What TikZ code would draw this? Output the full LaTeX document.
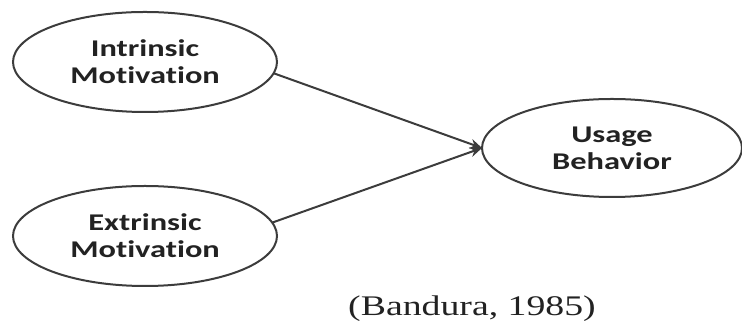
\documentclass[tikz,border=0pt]{standalone}
\usepackage{fontspec}
\usetikzlibrary{arrows.meta,shapes.geometric}
\newfontfamily\varfont[FakeStretch=1.35,BoldFont={Carlito Bold},RawFeature=-liga]{Carlito}
\newfontfamily\citefont[FakeStretch=1.33]{Liberation Serif}
\definecolor{edgegray}{HTML}{3C3C3C}
\definecolor{inkgray}{HTML}{222222}

\begin{document}
\begin{tikzpicture}[x={(0.5pt,0)},y={(0,-0.5pt)},
  var/.style={ellipse,draw=edgegray,line width=1pt,minimum width=132pt,minimum height=50pt,
    inner sep=0pt,outer sep=0pt,align=center,text=inkgray,font=\varfont\bfseries\fontsize{12}{13.5}\selectfont},
  link/.style={draw=edgegray,line width=1pt,-{Stealth[length=6pt,width=5pt]}}]
\useasboundingbox (0,0) rectangle (742,324);
\node[var] (intr) at (145,62) {Intrinsic\\Motivation};
\node[var] (extr) at (145,236) {Extrinsic\\Motivation};
\node[var,minimum width=130pt,minimum height=49pt] (usage) at (612,148) {Usage\\Behavior};
\draw[link] (intr.-5) -- (usage.west);
\draw[link] (extr.6) -- (usage.west);
\node[text=inkgray,font=\citefont\fontsize{14.2}{16}\selectfont,inner sep=0pt] (cite) at (472,309) {(Bandura, 1985)};
\end{tikzpicture}
\end{document}
